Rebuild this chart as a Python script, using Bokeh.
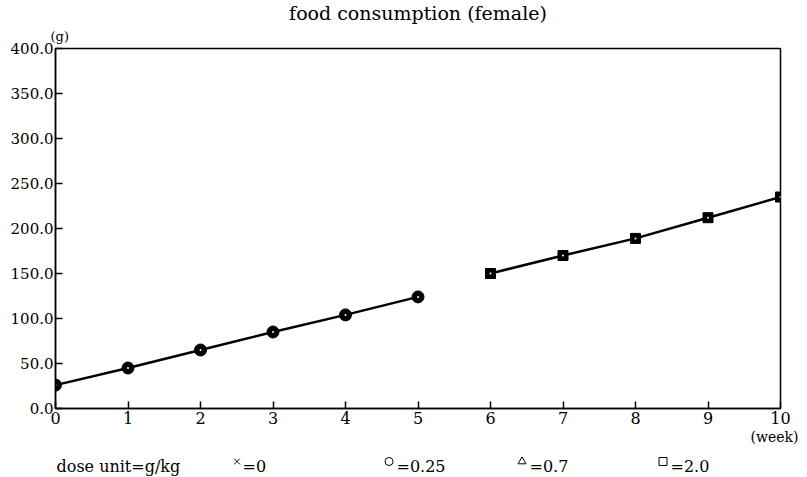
from bokeh.plotting import figure
from bokeh.layouts import column
from bokeh.models import Range1d, FixedTicker, PrintfTickFormatter, Title
from bokeh.core.properties import value
from bokeh.embed import file_html
from bokeh.resources import INLINE

# ---- data ----
weeks_first = [0, 1, 2, 3, 4, 5]
food_first = [26, 45, 65, 85, 104, 124]
weeks_second = [6, 7, 8, 9, 10]
food_second = [150, 170, 189, 212, 235]
x_ticks = [0, 1, 2, 3, 4, 5, 6, 7, 8, 9, 10]
y_ticks = [0, 50, 100, 150, 200, 250, 300, 350, 400]
dose_markers = ["x", "circle", "triangle", "square"]
dose_values = ["0", "0.25", "0.7", "2.0"]
title_text = "food consumption (female)"
dose_unit_text = "dose unit=g/kg"
y_unit_text = "(g)"
x_unit_text = "(week)"

FONT = "DejaVu Serif"
W = 805
H_MAIN, H_KEY = 448, 28
FRAME_L, FRAME_R, FRAME_T, FRAME_B = 55, 780, 47, 408

p = figure(width=W, height=H_MAIN, title=None,
           x_range=Range1d(0, 10), y_range=Range1d(0, 400),
           output_backend="svg", toolbar_location=None,
           min_border_left=FRAME_L, min_border_right=W - FRAME_R,
           min_border_top=FRAME_T, min_border_bottom=H_MAIN - FRAME_B)
p.xgrid.visible = False
p.ygrid.visible = False
p.background_fill_color = "white"
p.border_fill_color = "white"
p.outline_line_color = "black"
p.outline_line_width = 1.5
p.outline_line_alpha = 1.0

for ax in (p.xaxis[0], p.yaxis[0]):
    ax.axis_line_color = "black"
    ax.axis_line_width = 1.5
    ax.major_tick_line_color = "black"
    ax.major_tick_line_width = 1.5
    ax.major_tick_in = 7
    ax.major_tick_out = 0
    ax.minor_tick_in = 0
    ax.minor_tick_out = 0
    ax.minor_tick_line_color = None
    ax.major_label_text_font = FONT
    ax.major_label_text_color = "black"

p.xaxis.ticker = FixedTicker(ticks=x_ticks)
p.xaxis.major_label_text_font_size = "16px"
p.xaxis.major_label_standoff = 3
p.yaxis.ticker = FixedTicker(ticks=y_ticks)
p.yaxis.formatter = PrintfTickFormatter(format="%.1f")
p.yaxis.major_label_text_font_size = "15px"
p.yaxis.major_label_standoff = 2

# ---- series ----
p.line(weeks_first, food_first, line_color="black", line_width=2.5)
p.scatter(weeks_first, food_first, marker="circle", size=12,
          fill_color="black", line_color="black")
p.scatter(weeks_first, food_first, marker="circle", size=2,
          fill_color="white", line_color=None)

p.line(weeks_second, food_second, line_color="black", line_width=2.5)
p.scatter(weeks_second, food_second, marker="square", size=10,
          fill_color="black", line_color="black")
p.scatter(weeks_second, food_second, marker="circle", size=2,
          fill_color="white", line_color=None)

# ---- texts outside the frame ----
p.add_layout(Title(text=y_unit_text, align="left", offset=-5, standoff=9,
                   text_font=FONT, text_font_size="13px",
                   text_font_style="normal", text_color="black"), "above")
p.add_layout(Title(text=title_text, align="center", offset=3, standoff=-2,
                   text_font=FONT, text_font_size="19px",
                   text_font_style="normal", text_color="black"), "above")
p.add_layout(Title(text=x_unit_text, align="right", offset=-18, standoff=0,
                   text_font=FONT, text_font_size="14px",
                   text_font_style="normal", text_color="black"), "below")

# ---- dose key row: a strip whose frame lines up with the chart frame,
#      coordinates are page pixels ----
KEY_TOP = H_MAIN
key = figure(width=W, height=H_KEY, title=None,
             x_range=Range1d(FRAME_L, FRAME_R),
             y_range=Range1d(KEY_TOP + H_KEY, KEY_TOP),
             x_axis_location=None, y_axis_location=None,
             output_backend="svg", toolbar_location=None,
             min_border_left=FRAME_L, min_border_right=W - FRAME_R,
             min_border_top=0, min_border_bottom=0)
key.xgrid.visible = False
key.ygrid.visible = False
key.outline_line_color = None
key.background_fill_color = "white"
key.border_fill_color = "white"

key_text_x = [56, 242, 396, 529, 670]
key_mark_x = [236.5, 388.5, 521.5, 662.5]
key_baseline = 466
key_mark_y = 461

key.text(x=key_text_x, y=[key_baseline] * 5,
         text=[dose_unit_text] + ["=" + v for v in dose_values],
         text_font=value(FONT), text_font_size="16px",
         text_align="left", text_baseline="alphabetic", text_color="black")
key.scatter(x=key_mark_x, y=[key_mark_y] * 4, marker=dose_markers,
            size=8, fill_color=None, line_color="black", line_width=1)

open("out.html", "w").write(file_html(column(p, key, spacing=0), INLINE))
